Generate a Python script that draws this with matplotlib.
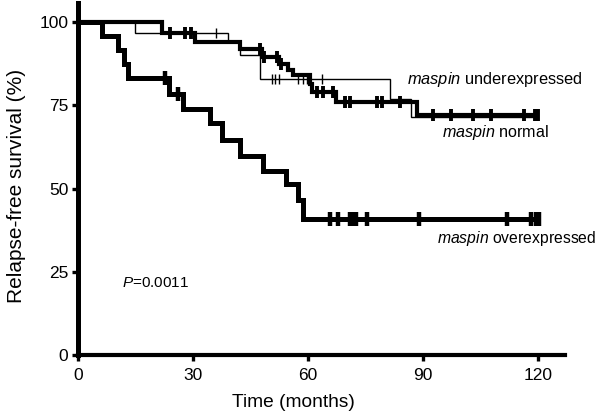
import numpy as np
import matplotlib
matplotlib.use("Agg")
import matplotlib.pyplot as plt

plt.rcParams["font.family"] = ["Liberation Sans", "DejaVu Sans"]
plt.rcParams["mathtext.fontset"] = "custom"
plt.rcParams["mathtext.it"] = "Liberation Sans:italic"
plt.rcParams["mathtext.rm"] = "Liberation Sans"

# Kaplan-Meier step data (months, % relapse-free)
under_t = [0, 14.8, 39, 42.2, 47.4, 81.3, 86.9, 120]
under_s = [100, 96.8, 94, 90, 83, 77, 71.5, 71.5]
under_cens = [36, 50.5, 51.5, 52.5, 57.3, 58.6, 59.6, 63.5]

normal_t = [0, 21.8, 30.5, 42.2, 48, 52.5, 54.7, 56, 60.4, 61, 67.4, 88.5, 120]
normal_s = [100, 96.6, 94, 92, 89.6, 87.5, 85.6, 84, 81.5, 79, 76, 72, 72]
normal_cens = [24, 28, 29.5, 47.4, 48.5, 52, 53, 62.2, 64, 66.4, 69.5, 70.8,
               78, 79.4, 83.9, 92.5, 97.3, 103, 107.8, 116.4, 119.2, 120]

over_t = [0, 6.3, 10.5, 12.1, 13.1, 23.8, 27.3, 34.4, 37.5, 42.2, 48.2,
          54.3, 57.3, 58.6, 120.3]
over_s = [100, 95.8, 91.7, 87.5, 83.3, 78.5, 74, 69.7, 64.6, 59.8, 55.3,
          51.5, 46.5, 41, 41]
over_cens = [22.7, 26, 65.6, 67.7, 70.8, 71.6, 72.4, 75.3, 88.8, 112, 118,
             119.5, 120.3]

x_ticks = [0, 30, 60, 90, 120]
y_ticks = [0, 25, 50, 75, 100]


def surv_at(t, times, surv):
    idx = np.searchsorted(times, t, side="right") - 1
    return np.asarray(surv)[idx]


fig = plt.figure(figsize=(6, 4.16), dpi=100)
ax = fig.add_axes([0.13, 0.1466, 0.8117, 0.846])

curves = [
    (under_t, under_s, under_cens, 1.0, 7, 1.0),
    (normal_t, normal_s, normal_cens, 3.0, 9, 2.8),
    (over_t, over_s, over_cens, 3.6, 10, 3.2),
]
for t, s, cens, lw, ms, mew in curves:
    ax.step(t, s, where="post", color="black", linewidth=lw,
            solid_joinstyle="miter", solid_capstyle="butt")
    ax.plot(cens, surv_at(cens, t, s), linestyle="none", marker="|",
            color="black", markersize=ms, markeredgewidth=mew)

ax.set_xlim(0, 127)
ax.set_ylim(0, 105.7)
ax.set_xticks(x_ticks)
ax.set_yticks(y_ticks)
ax.tick_params(direction="out", length=4, width=2.4, labelsize=12.5, pad=3)
ax.tick_params(axis="x", pad=5)

for side in ["top", "right"]:
    ax.spines[side].set_visible(False)
ax.spines["left"].set_linewidth(3.6)
ax.spines["bottom"].set_linewidth(3.0)

ax.set_xlabel("Time (months)", fontsize=13.8)
ax.xaxis.set_label_coords(0.443, -0.11)
ax.set_ylabel("Relapse-free survival (%)", fontsize=15)
ax.yaxis.set_label_coords(-0.106, 0.48)

ax.text(85.9, 82.6, r"$\it{maspin}$ underexpressed", fontsize=11.8, va="center")
ax.text(95, 66.7, r"$\it{maspin}$ normal", fontsize=11.6, va="center")
ax.text(93.7, 35.1, r"$\it{maspin}$ overexpressed", fontsize=11.3, va="center")
ax.text(11.5, 21.6, r"$\it{P}$=0.0011", fontsize=11, va="center")

fig.savefig("out.png", dpi=100)
